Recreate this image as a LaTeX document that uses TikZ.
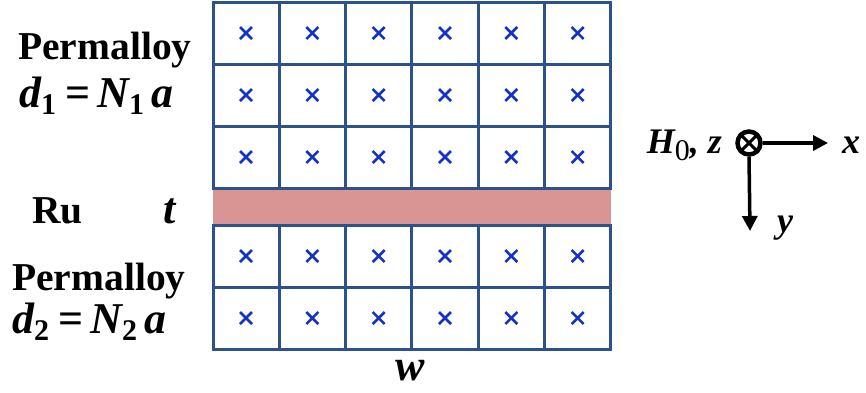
\documentclass[tikz,border=0pt]{standalone}
\usepackage{fontspec}
\setmainfont{Liberation Serif}
\usetikzlibrary{calc}
\usetikzlibrary{arrows.meta}

\definecolor{gridblue}{RGB}{44,82,140}
\definecolor{crossblue}{RGB}{20,50,200}
\definecolor{rupink}{RGB}{217,149,148}

\newcommand{\lowidx}[1]{\raisebox{-7pt}{\fontsize{30}{30}\selectfont\upshape #1}}

\tikzset{
  cell/.style={draw=gridblue, line width=3pt},
  spin/.style={crossblue, line width=2.6pt},
  lbl/.style={font=\fontsize{39.5}{42}\selectfont\bfseries, inner sep=0pt},
  eqlbl/.style={font=\fontsize{44}{46}\selectfont\bfseries\itshape, inner sep=0pt},
  axlbl/.style={font=\fontsize{36}{38}\selectfont\bfseries\itshape, inner sep=0pt},
  axis/.style={line width=3.5pt, -{Triangle[length=15pt,width=15pt]}}
}

\begin{document}
\begin{tikzpicture}[x=1pt,y=-1pt]
\useasboundingbox (0,0) rectangle (866,392);
% Ru spacer
\fill[rupink] (213,189) rectangle (611,225);
% top and bottom permalloy layers
\foreach \i in {0,...,5} {
  \foreach \j in {0,1,2}
    \draw[cell] (213+66.33*\i, 2+62*\j) rectangle ++(66.33,62);
  \foreach \j in {0,1}
    \draw[cell] (213+66.33*\i, 225+62*\j) rectangle ++(66.33,62);
}
% spins into the page
\foreach \i in {0,...,5} {
  \foreach \y in {33,95,157,256,318}
    \draw[spin] (246+66.33*\i-6, \y-6) -- ++(12,12) (246+66.33*\i-6, \y+6) -- ++(12,-12);
}
\node[lbl, anchor=base west] (pytop) at (18,59) {Permalloy};
\node[eqlbl, anchor=base west] (dtop) at (19,107) {d\lowidx{1}\hspace{9pt}\upshape=\hspace{7pt}\itshape N\lowidx{1}\hspace{7pt}a};
\node[lbl, anchor=base west] (ru) at (32,223) {Ru};
\node[eqlbl, anchor=base west] (thick) at (163,223) {t};
\node[lbl, anchor=base west] (pybot) at (12,290) {Permalloy};
\node[eqlbl, anchor=base west] (dbot) at (12,333) {d\lowidx{2}\hspace{9pt}\upshape=\hspace{7pt}\itshape N\lowidx{2}\hspace{7pt}a};
\node[eqlbl, anchor=base] (width) at (410,380) {w};
% axes
\node[circle, draw, line width=4.5pt, minimum size=23pt, inner sep=0pt] (orig) at (749,143) {};
\draw[line width=3pt, shorten <=1pt, shorten >=1pt] (orig.north west) -- (orig.south east) (orig.north east) -- (orig.south west);
\coordinate (xend) at (828,143);
\coordinate (yend) at (750,231);
\draw[axis] (orig.east) -- (xend);
\draw[axis] (orig.south) -- (yend);
\node[axlbl, anchor=base east] (hz) at (722,153) {H{\mdseries\lowidx{0}}, z};
\node[axlbl, anchor=base] (xl) at (851,153) {x};
\node[axlbl, anchor=base] (yl) at (785,232) {y};
\end{tikzpicture}
\end{document}
